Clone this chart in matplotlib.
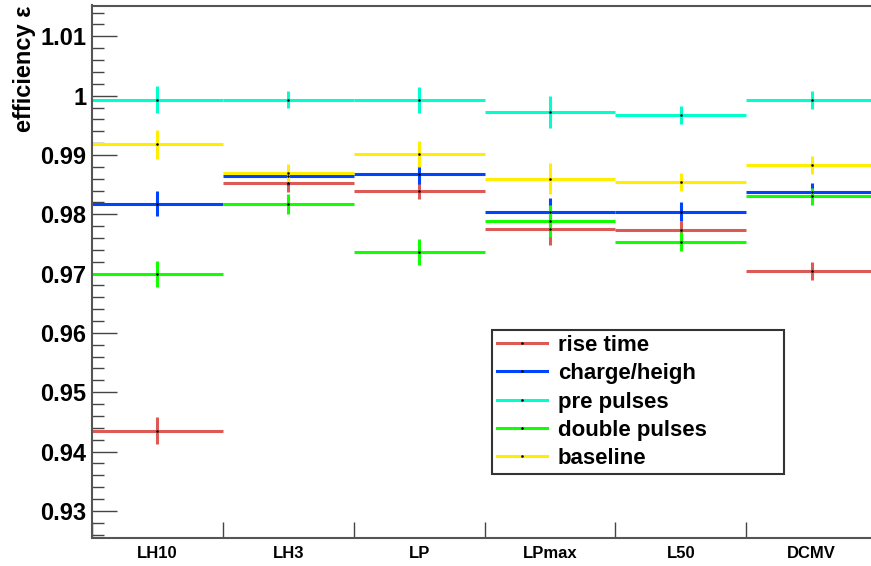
import matplotlib.pyplot as plt
import numpy as np
from matplotlib.lines import Line2D

# categorie (bin) e valori
methods = ["LH10", "LH3", "LP", "LPmax", "L50", "DCMV"]

rise_time = [0.9435, 0.9852, 0.9839, 0.9775, 0.9773, 0.9704]
rise_time_err = [0.0023, 0.0015, 0.0014, 0.0026, 0.0015, 0.0015]

charge_heigh = [0.9818, 0.9864, 0.9868, 0.9803, 0.9804, 0.9837]
charge_heigh_err = [0.0021, 0.0015, 0.0017, 0.0025, 0.0016, 0.0015]

pre_pulses = [0.9993, 0.9993, 0.9992, 0.9972, 0.9967, 0.9992]
pre_pulses_err = [0.0023, 0.0014, 0.0022, 0.0027, 0.0015, 0.0015]

double_pulses = [0.9700, 0.9818, 0.9737, 0.9789, 0.9754, 0.9830]
double_pulses_err = [0.0022, 0.0017, 0.0022, 0.0027, 0.0016, 0.0015]

baseline = [0.9918, 0.9869, 0.9901, 0.9860, 0.9854, 0.9883]
baseline_err = [0.0024, 0.0015, 0.0022, 0.0026, 0.0015, 0.0015]

labels = ["rise time", "charge/heigh", "pre pulses", "double pulses", "baseline"]
colors = ["#dc5a55", "#0044ff", "#00ffcc", "#11ff00", "#ffee00"]

series = [(rise_time, rise_time_err), (charge_heigh, charge_heigh_err),
          (pre_pulses, pre_pulses_err), (double_pulses, double_pulses_err),
          (baseline, baseline_err)]

plt.rcParams['font.family'] = ['Liberation Sans', 'DejaVu Sans']
plt.rcParams['font.weight'] = 'bold'

fig = plt.figure(figsize=(8.71, 5.66), dpi=100)
ax = fig.add_axes([92 / 871, 28.5 / 566, 785 / 871, 532 / 566])

x = np.arange(len(methods)) + 0.5
for (vals, errs), col in zip(series, colors):
    ax.errorbar(x, vals, xerr=0.5, yerr=errs, fmt='s', color=col,
                ecolor=col, elinewidth=2.2, capsize=0, markersize=0.8,
                markerfacecolor='black', markeredgecolor='black')

ax.set_xlim(0, len(methods))
ax.set_ylim(0.9255, 1.0152)

# tacche: confini dei bin in basso, etichette al centro
ax.set_xticks(np.arange(len(methods) + 1))
ax.set_xticklabels([])
ax.set_xticks(x, minor=True)
ax.set_xticklabels(methods, minor=True, fontsize=12, fontweight='bold')
ax.tick_params(axis='x', which='major', direction='in', length=11.5,
               width=1, color='#444444')
ax.tick_params(axis='x', which='minor', length=0, pad=6)

ax.set_yticks(np.arange(0.93, 1.0151, 0.01))
ax.set_yticklabels(["0.93", "0.94", "0.95", "0.96", "0.97", "0.98", "0.99", "1", "1.01"])
ax.set_yticks(np.arange(0.926, 1.0152, 0.002), minor=True)
ax.tick_params(axis='y', which='major', direction='in', length=18, width=1,
               color='#444444', labelsize=17, pad=4)
ax.tick_params(axis='y', which='minor', direction='in', length=8.6, width=1,
               color='#444444')
for lab in ax.get_yticklabels():
    lab.set_fontweight('bold')

for s in ax.spines.values():
    s.set_color('#555555')
    s.set_linewidth(1.5)

fig.text(24 / 871, 1 - 5 / 566, "efficiency ε", rotation=90, ha='center',
         va='top', fontsize=17, fontweight='bold')

handles = [Line2D([0], [0], color=c, lw=2.2, marker='s', markersize=0.8,
                  markerfacecolor='black', markeredgecolor='black')
           for c in colors]
# riquadro della legenda in coordinate assi (x0, y0, larghezza, altezza)
lx0 = (492 - 92) / 785
lw = (784 - 492) / 785
ly1 = 1 - (330 - 5.5) / 532
leg = ax.legend(handles, labels, loc='upper left', mode='expand',
                bbox_to_anchor=(lx0, ly1 - 0.2, lw, 0.2),
                prop={'size': 16, 'weight': 'bold'}, frameon=True,
                fancybox=False, edgecolor='#333333', framealpha=1,
                handlelength=2.25, handletextpad=0.5, borderpad=0.22,
                labelspacing=0.33, borderaxespad=0)
leg.get_frame().set_linewidth(1.5)

fig.savefig("out.png", dpi=100)
